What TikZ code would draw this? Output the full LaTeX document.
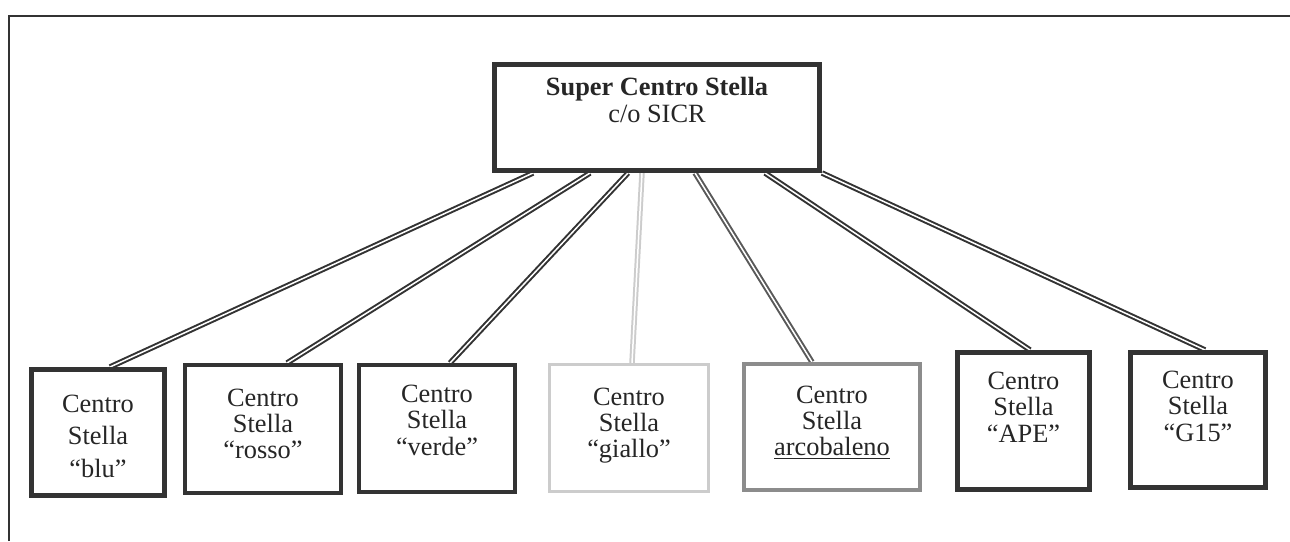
\documentclass[tikz,border=0pt]{standalone}
\usepackage{fontspec}
\setmainfont{Liberation Serif}
\usepackage{tikz}
\usetikzlibrary{backgrounds}
\tikzstyle{centro}=[rectangle, draw=black!80, line width=0.8mm, fill=white, align=center, text=black!85, font=\fontsize{15pt}{15pt}\selectfont, anchor=center]
\tikzstyle{link}=[draw=black!80, double=white, double distance=0.3mm, line width=0.4mm]

\begin{document}
\begin{tikzpicture}
	\useasboundingbox (0,0) rectangle (25.8,10.82);
	\draw[black!80, line width=0.45mm] (0.18,0) -- (0.18,10.5) -- (25.8,10.5);

	\node[centro, line width=1mm, minimum width=6.5cm, minimum height=2.12cm, text depth=20pt, font=\fontsize{15pt}{15.5pt}\selectfont](super) at (13.14,8.47){\textbf{Super Centro Stella}\\c/o SICR};

	\node[centro, line width=1mm, minimum width=2.66cm, minimum height=2.52cm, text height=51pt, font=\fontsize{15pt}{18.4pt}\selectfont](blu) at (1.96,2.17){Centro\\Stella\\“blu”};
	\node[centro, minimum width=3.12cm, minimum height=2.56cm, text depth=6pt](rosso) at (5.26,2.24){Centro\\Stella\\“rosso”};
	\node[centro, minimum width=3.12cm, minimum height=2.54cm, text depth=9.5pt](verde) at (8.74,2.25){Centro\\Stella\\“verde”};
	\node[centro, draw=black!20, line width=0.6mm, minimum width=3.18cm, minimum height=2.54cm, text depth=6pt](giallo) at (12.58,2.26){Centro\\Stella\\“giallo”};
	\node[centro, draw=black!45, minimum width=3.52cm, minimum height=2.52cm, text depth=7pt](arcobaleno) at (16.64,2.28){Centro\\Stella\\\underline{arcobaleno}};
	\node[centro, line width=1mm, minimum width=2.64cm, minimum height=2.74cm, text depth=16pt](ape) at (20.47,2.40){Centro\\Stella\\“APE”};
	\node[centro, line width=1mm, minimum width=2.70cm, minimum height=2.70cm, text depth=16pt](g15) at (23.96,2.42){Centro\\Stella\\“G15”};

	% double links, behind the boxes
	\begin{scope}[on background layer]
	\draw[link] ([xshift=-2.48cm]super.south) -- ([xshift=0.24cm]blu.north);
	\draw[link] ([xshift=-1.34cm]super.south) -- ([xshift=0.48cm]rosso.north);
	\draw[link] ([xshift=-0.58cm]super.south) -- ([xshift=0.26cm]verde.north);
	\draw[link, draw=black!20] ([xshift=-0.30cm]super.south) -- ([xshift=0.06cm]giallo.north);
	\draw[link, draw=black!65] ([xshift=0.76cm]super.south) -- ([xshift=-0.40cm]arcobaleno.north);
	\draw[link] ([xshift=2.16cm]super.south) -- ([xshift=0.13cm]ape.north);
	\draw[link] (super.south east) -- ([xshift=0.14cm]g15.north);
	\end{scope}
\end{tikzpicture}
\end{document}
